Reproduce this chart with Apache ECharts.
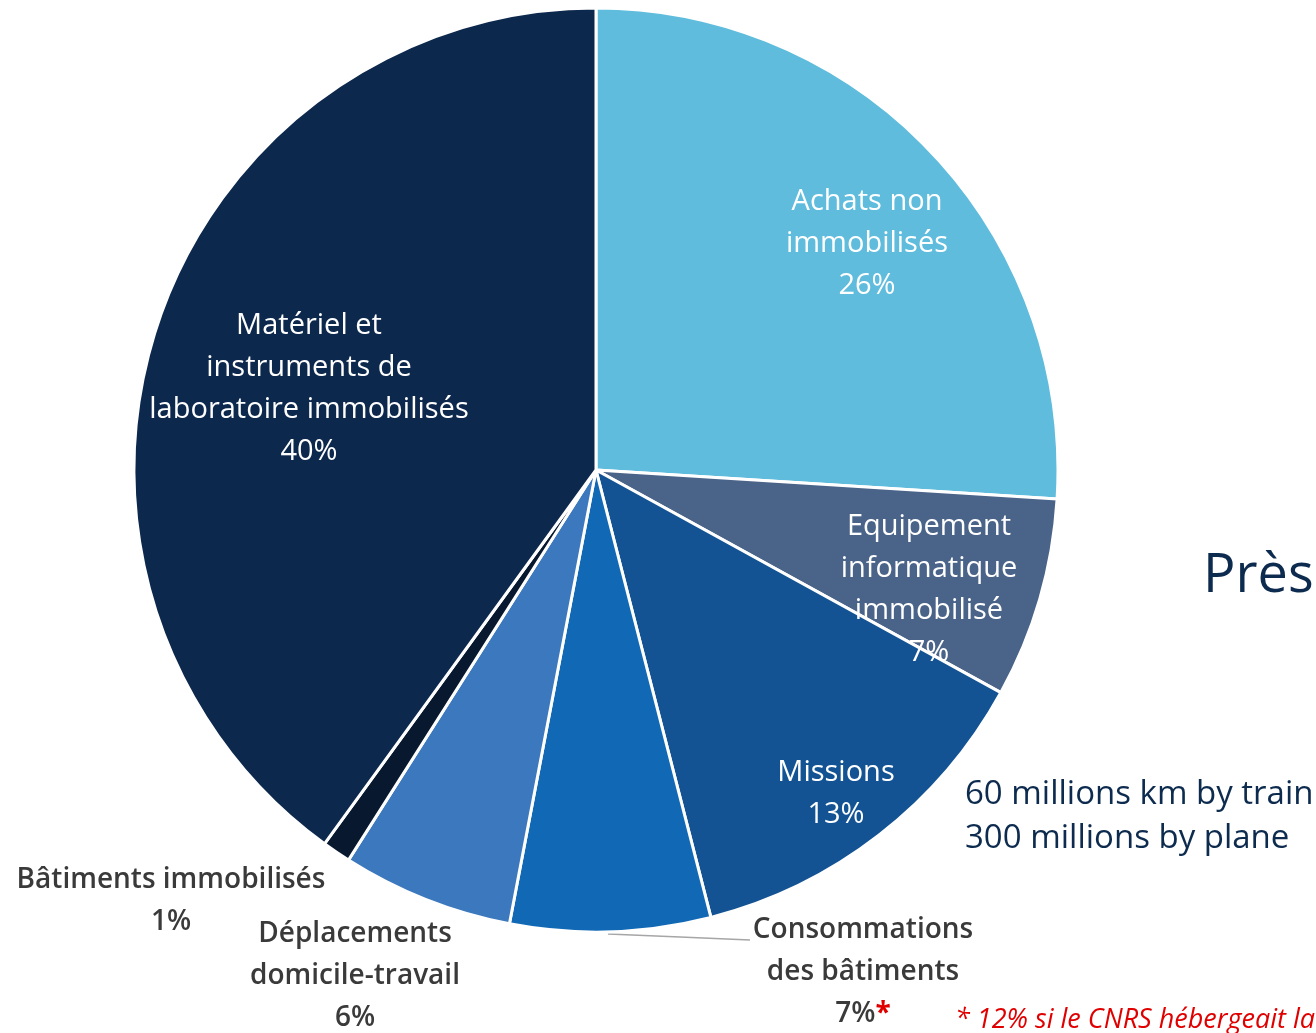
<!DOCTYPE html>
<html>
<head>
<meta charset="utf-8">
<script src="https://cdn.jsdelivr.net/npm/echarts@6/dist/echarts.min.js"></script>
<style>
  html, body { margin: 0; padding: 0; background: #ffffff; }
  #chart { width: 1316px; height: 1033px; }
</style>
</head>
<body>
<div id="chart"></div>
<script>
// Répartition de l'empreinte carbone par poste (%)
const categories = [
  'Achats non\nimmobilisés',
  'Equipement\ninformatique\nimmobilisé',
  'Missions',
  'Consommations\ndes bâtiments',
  'Déplacements\ndomicile-travail',
  'Bâtiments immobilisés',
  'Matériel et\ninstruments de\nlaboratoire immobilisés'
];
const shares = [26, 7, 13, 7, 6, 1, 40];
const sliceColors = ['#5FBCDD', '#4A6389', '#135394', '#1169B6', '#3B78BE', '#07182F', '#0D284D'];
const insideLabel = [true, true, true, false, false, false, true];
const starred = [false, false, false, true, false, false, false];

// Label anchor points (pixel centres of each text block)
const labelSpots = [
  [867, 244], [929, 590], [836, 794], [863, 972], [355, 976], [171, 901], [309, 389]
];
// Leader line running from the bottom of the pie to the "Consommations" label
const leaderPath = [[608, 934], [680, 937], [750, 940]];

const FONT = '"Open Sans", Lato, sans-serif';

const chart = echarts.init(document.getElementById('chart'));

const data = categories.map((name, i) => ({
  name,
  value: shares[i],
  itemStyle: { color: sliceColors[i] },
  label: insideLabel[i]
    ? { position: 'inside', color: '#ffffff', fontWeight: 'normal', fontSize: 29 }
    : { position: 'outside', color: '#3a3a3a', fontWeight: 600, fontSize: 28 },
  labelLine: { show: i === 3 }
}));

chart.setOption({
  backgroundColor: '#ffffff',
  animation: false,
  series: [{
    type: 'pie',
    center: [596, 470],
    radius: 462,
    startAngle: 90,
    clockwise: true,
    avoidLabelOverlap: false,
    itemStyle: { borderColor: '#ffffff', borderWidth: 3 },
    label: {
      fontFamily: FONT,
      fontSize: 28,
      lineHeight: 42,
      align: 'center',
      formatter: p => starred[p.dataIndex]
        ? p.name + '\n' + p.value + '%{r|*}'
        : p.name + '\n' + p.value + '%',
      rich: {
        r: { color: '#E00000', fontSize: 28, fontWeight: 'bold', fontFamily: FONT }
      }
    },
    labelLine: {
      show: false,
      length: 10,
      length2: 10,
      lineStyle: { color: '#A6A6A6', width: 1.5 }
    },
    labelLayout: p => {
      const i = p.dataIndex;
      const layout = {
        x: labelSpots[i][0],
        y: labelSpots[i][1],
        align: 'center',
        verticalAlign: 'middle'
      };
      if (i === 3) layout.labelLinePoints = leaderPath;
      return layout;
    },
    data
  }],
  graphic: [
    {
      type: 'text', left: 1203, top: 550,
      style: { text: 'Près', fill: '#0D2B4E', font: '54px "Open Sans", Lato, sans-serif' }
    },
    {
      type: 'text', left: 965, top: 773,
      style: {
        text: '60 millions km by train\n300 millions by plane',
        fill: '#0D2B4E', font: '33px "Open Sans", Lato, sans-serif', lineHeight: 44
      }
    },
    {
      type: 'text', left: 955, top: 1007,
      style: {
        text: '* 12% si le CNRS hébergeait la totalité',
        fill: '#E00000', font: 'italic 27px "Open Sans", Lato, sans-serif'
      }
    }
  ]
});
</script>
</body>
</html>
